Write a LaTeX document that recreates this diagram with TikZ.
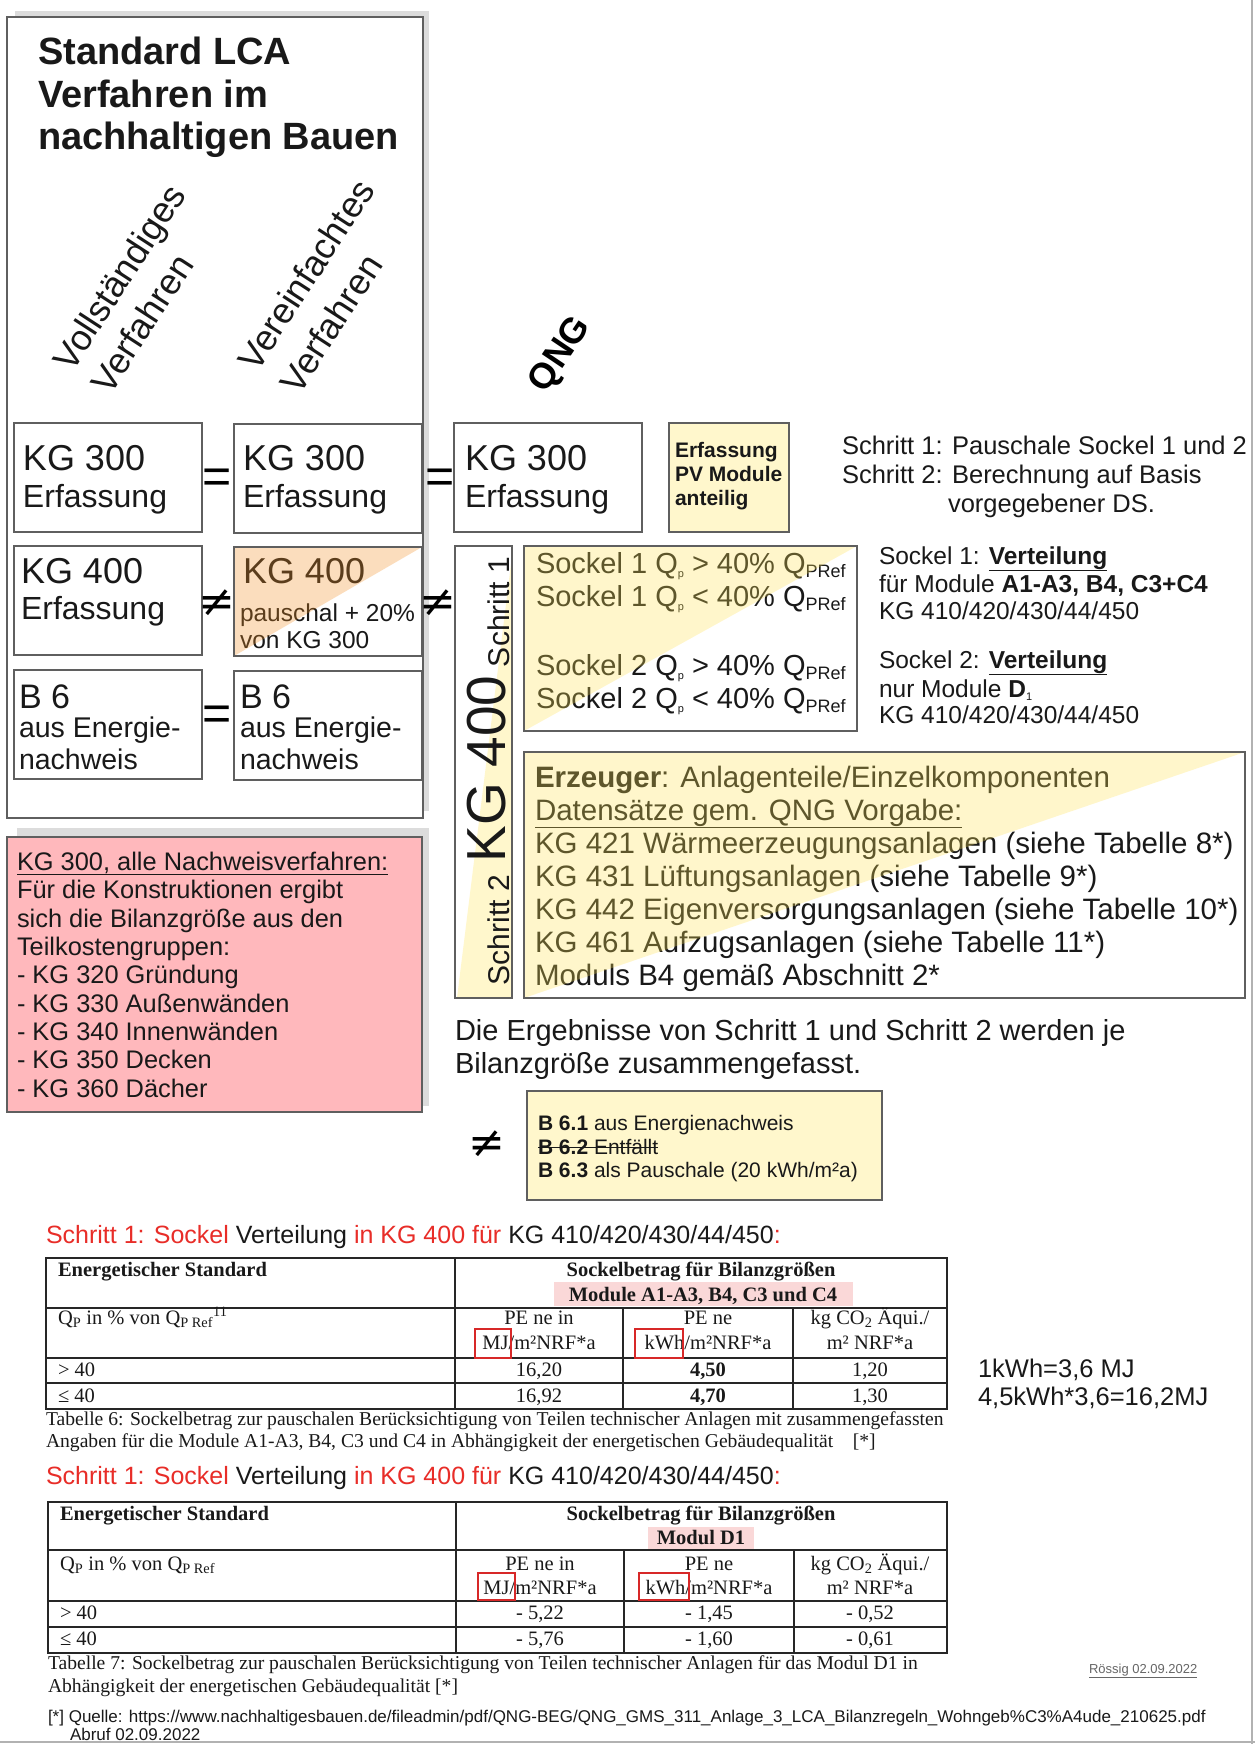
\documentclass[tikz,border=0pt]{standalone}
\usepackage{fontspec}
\setmainfont{Liberation Sans}
\newfontfamily\tser{Liberation Serif}
\newfontfamily\dvs{DejaVu Sans}
\newcommand\fz[1]{\fontsize{#1}{#1}\selectfont}
\newcommand\strk[1]{\leavevmode\setbox0\hbox{#1}\rlap{\rule[0.3em]{\wd0}{1.2pt}}\box0}
\definecolor{ink}{RGB}{25,25,25}
\definecolor{boxc}{RGB}{95,95,95}
\definecolor{shad}{RGB}{220,220,220}
\definecolor{ylw}{RGB}{255,247,204}
\definecolor{ylwo}{RGB}{255,228,85}
\definecolor{orno}{RGB}{245,145,38}
\definecolor{pinkbox}{RGB}{255,184,188}
\definecolor{redt}{RGB}{232,45,40}
\definecolor{hl}{RGB}{250,216,216}
\definecolor{redbox}{RGB}{215,40,40}
\tikzset{
  t/.style={inner sep=0pt, outer sep=0pt, anchor=base west, text=ink},
  tc/.style={inner sep=0pt, outer sep=0pt, anchor=base, text=ink},
  bx/.style={draw=boxc, line width=1.5pt},
  tabl/.style={draw=black!85, line width=1.3pt},
  sym/.style={inner sep=0pt, outer sep=0pt, anchor=center, text=black},
}
\begin{document}
\begin{tikzpicture}[x=1pt,y=-1pt]
\useasboundingbox (0,0) rectangle (1255,1744);
\fill[white] (0,0) rectangle (1255,1744);
\draw[black!30, line width=1.5pt] (1252,0) -- (1252,1744);
\draw[black!30, line width=1.5pt] (0,1742) -- (1255,1742);

% shadows
\fill[shad] (15,11) rectangle (429,811);
\fill[shad] (17,828) rectangle (429,1106);
% main box
\filldraw[fill=white, draw=boxc, line width=1.8pt] (7,17) rectangle (423,818);
% title
\node[t, font=\bfseries\fz{38}] (ti1) at (38,65) {Standard LCA};
\node[t, font=\bfseries\fz{38}] (ti2) at (38,108) {Verfahren im};
\node[t, font=\bfseries\fz{38}] (ti3) at (38,150) {nachhaltigen Bauen};
% rotated headings
\node[t, rotate=57, font=\fz{36}] (vo1) at (72,373) {Vollständiges};
\node[t, rotate=57, font=\fz{36}] (vo2) at (110,396) {Verfahren};
\node[t, rotate=57, font=\fz{36}] (ve1) at (257,373) {Vereinfachtes};
\node[t, rotate=57, font=\fz{36}] (ve2) at (299,396) {Verfahren};
\node[inner sep=0pt, rotate=56, font=\bfseries\fz{36}, text=black] (qng) at (561,355) {QNG};

% row 1
\draw[bx, fill=white] (14,423) rectangle (202,532);
\node[t, font=\fz{36}] (a1a) at (23,470) {KG 300};
\node[t, font=\fz{32}] (a1b) at (23,507) {Erfassung};
\draw[bx, fill=white] (234,424) rectangle (422,533);
\node[t, font=\fz{36}] (b1a) at (243,470) {KG 300};
\node[t, font=\fz{32}] (b1b) at (243,507) {Erfassung};
\draw[bx, fill=white] (454,423) rectangle (642,532);
\node[t, font=\fz{36}] (q1a) at (465,470) {KG 300};
\node[t, font=\fz{32}] (q1b) at (465,507) {Erfassung};
\draw[bx, fill=ylw] (669,423) rectangle (789,532);
\node[t, font=\bfseries\fz{21}] (pv1) at (675,457) {Erfassung};
\node[t, font=\bfseries\fz{21}] (pv2) at (675,481) {PV Module};
\node[t, font=\bfseries\fz{21}] (pv3) at (675,505) {anteilig};
\node[sym, font=\fz{50}] (eq1) at (217,481) {=};
\node[sym, font=\fz{50}] (eq2) at (440,481) {=};

% right top text
\node[t, font=\fz{25.5}] (r1) at (842,454) {Schritt 1: Pauschale Sockel 1 und 2};
\node[t, font=\fz{25.5}] (r2) at (842,483) {Schritt 2: Berechnung auf Basis};
\node[t, font=\fz{25.5}] (r3) at (948,512) {vorgegebener DS.};

% row 2
\draw[bx, fill=white] (14,546) rectangle (202,655);
\node[t, font=\fz{36}] (a2a) at (21,583) {KG 400};
\node[t, font=\fz{32}] (a2b) at (21,619) {Erfassung};
\fill[white] (234,547) rectangle (422,656);
\node[t, font=\fz{36}] (b2a) at (243,583) {KG 400};
\node[t, font=\fz{24.5}] (b2b) at (240,621) {pauschal + 20\%};
\node[t, font=\fz{24.5}] (b2c) at (240,648) {von KG 300};
\fill[orno, fill opacity=0.3] (234,547) -- (422,547) -- (234,656) -- cycle;
\draw[bx] (234,547) rectangle (422,656);
\node[sym, font=\dvs\fz{44}] (ne1) at (217,603) {≠};
\node[sym, font=\dvs\fz{44}] (ne2) at (438,603) {≠};

% row 3
\draw[bx, fill=white] (14,670) rectangle (202,779);
\node[t, font=\fz{34}] (a3a) at (19,708) {B 6};
\node[t, font=\fz{28.5}] (a3b) at (19,737) {aus Energie-};
\node[t, font=\fz{28.5}] (a3c) at (19,769) {nachweis};
\draw[bx, fill=white] (234,671) rectangle (422,780);
\node[t, font=\fz{34}] (b3a) at (240,708) {B 6};
\node[t, font=\fz{28.5}] (b3b) at (240,737) {aus Energie-};
\node[t, font=\fz{28.5}] (b3c) at (240,769) {nachweis};
\node[sym, font=\fz{50}] (eq3) at (217,718) {=};

% KG 400 column
\fill[white] (455,546) rectangle (512,998);
\fill[ylw] (512,556) -- (512,998) -- (457,998) -- cycle;
\node[t, rotate=90, font=\fz{30}] (col1) at (509,667) {Schritt 1};
\node[t, rotate=90, font=\fz{55}] (col2) at (505,862) {KG 400};
\node[t, rotate=90, font=\fz{30}] (col3) at (509,985) {Schritt 2};
\draw[bx] (455,546) rectangle (512,998);

% Sockel box
\fill[white] (524,546) rectangle (857,731);
\node[t, font=\fz{29}] (so1) at (536,573) {Sockel 1 Q\raisebox{-4pt}{\fz{11}p} > 40\% Q\raisebox{-4pt}{\fz{18}PRef}};
\node[t, font=\fz{29}] (so2) at (536,606) {Sockel 1 Q\raisebox{-4pt}{\fz{11}p} < 40\% Q\raisebox{-4pt}{\fz{18}PRef}};
\node[t, font=\fz{29}] (so3) at (536,675) {Sockel 2 Q\raisebox{-4pt}{\fz{11}p} > 40\% Q\raisebox{-4pt}{\fz{18}PRef}};
\node[t, font=\fz{29}] (so4) at (536,708) {Sockel 2 Q\raisebox{-4pt}{\fz{11}p} < 40\% Q\raisebox{-4pt}{\fz{18}PRef}};
\fill[ylwo, fill opacity=0.3] (524,546) -- (857,546) -- (524,731) -- cycle;
\draw[bx] (524,546) rectangle (857,731);

% Sockel explanation
\node[t, font=\fz{24.5}] (se1) at (879,564) {Sockel 1: \textbf{\underline{Verteilung}}};
\node[t, font=\fz{24.5}] (se2) at (879,592) {für Module \textbf{A1-A3, B4, C3+C4}};
\node[t, font=\fz{24.5}] (se3) at (879,619) {KG 410/420/430/44/450};
\node[t, font=\fz{24.5}] (se4) at (879,668) {Sockel 2: \textbf{\underline{Verteilung}}};
\node[t, font=\fz{24.5}] (se5) at (879,697) {nur Module \textbf{D}\raisebox{-3pt}{\fz{11}1}};
\node[t, font=\fz{24.5}] (se6) at (879,723) {KG 410/420/430/44/450};

% Erzeuger box
\fill[white] (524,752) rectangle (1245,998);
\node[t, font=\fz{29.5}] (er1) at (535,787) {\textbf{Erzeuger}: Anlagenteile/Einzelkomponenten};
\node[t, font=\fz{29.5}] (er2) at (535,820) {\underline{Datensätze gem. QNG Vorgabe:}};
\node[t, font=\fz{29.5}] (er3) at (535,853) {KG 421 Wärmeerzeugungsanlagen (siehe Tabelle 8*)};
\node[t, font=\fz{29.5}] (er4) at (535,886) {KG 431 Lüftungsanlagen (siehe Tabelle 9*)};
\node[t, font=\fz{29.5}] (er5) at (535,919) {KG 442 Eigenversorgungsanlagen (siehe Tabelle 10*)};
\node[t, font=\fz{29.5}] (er6) at (535,952) {KG 461 Aufzugsanlagen (siehe Tabelle 11*)};
\node[t, font=\fz{29.5}] (er7) at (535,985) {Moduls B4 gemäß Abschnitt 2*};
\fill[ylwo, fill opacity=0.3] (524,752) -- (1245,752) -- (524,998) -- cycle;
\draw[bx] (524,752) rectangle (1245,998);

% Pink box
\filldraw[fill=pinkbox, draw=boxc, line width=1.5pt] (7,837) rectangle (422,1112);
\node[t, font=\fz{25.4}] (pk1) at (17,870) {\underline{KG 300, alle Nachweisverfahren:}};
\node[t, font=\fz{25.4}] (pk2) at (17,898) {Für die Konstruktionen ergibt};
\node[t, font=\fz{25.4}] (pk3) at (17,927) {sich die Bilanzgröße aus den};
\node[t, font=\fz{25.4}] (pk4) at (17,955) {Teilkostengruppen:};
\node[t, font=\fz{25.4}] (pk5) at (17,983) {- KG 320 Gründung};
\node[t, font=\fz{25.4}] (pk6) at (17,1012) {- KG 330 Außenwänden};
\node[t, font=\fz{25.4}] (pk7) at (17,1040) {- KG 340 Innenwänden};
\node[t, font=\fz{25.4}] (pk8) at (17,1068) {- KG 350 Decken};
\node[t, font=\fz{25.4}] (pk9) at (17,1097) {- KG 360 Dächer};

% Ergebnisse
\node[t, font=\fz{29}] (eg1) at (455,1040) {Die Ergebnisse von Schritt 1 und Schritt 2 werden je};
\node[t, font=\fz{29}] (eg2) at (455,1073) {Bilanzgröße zusammengefasst.};

% B6 box
\draw[bx, fill=ylw] (527,1091) rectangle (882,1200);
\node[t, font=\fz{21}] (b61) at (538,1130) {\textbf{B 6.1} aus Energienachweis};
\node[t, font=\fz{21}] (b62) at (538,1154) {\strk{\textbf{B 6.2} Entfällt}};
\node[t, font=\fz{21}] (b63) at (538,1177) {\textbf{B 6.3} als Pauschale (20 kWh/m²a)};
\node[sym, font=\dvs\fz{44}] (ne3) at (487,1144) {≠};

% ---------- Table 1 ----------
\node[t, font=\fz{25}] (h1) at (46,1243) {\textcolor{redt}{Schritt 1: Sockel} Verteilung \textcolor{redt}{in KG 400 für} KG 410/420/430/44/450\textcolor{redt}{:}};
\fill[hl] (554,1282) rectangle (853,1306);
\draw[tabl] (46,1258) rectangle (947,1409);
\draw[tabl] (46,1308) -- (947,1308);
\draw[tabl] (46,1358) -- (947,1358);
\draw[tabl] (46,1383) -- (947,1383);
\draw[tabl] (455,1258) -- (455,1409);
\draw[tabl] (623,1308) -- (623,1409);
\draw[tabl] (793,1308) -- (793,1409);
\node[t, font=\tser\bfseries\fz{20.5}] (t1a) at (58,1276) {Energetischer Standard};
\node[tc, font=\tser\bfseries\fz{20.5}] (t1b) at (701,1276) {Sockelbetrag für Bilanzgrößen};
\node[tc, font=\tser\bfseries\fz{20.5}] (t1c) at (703,1301) {Module A1-A3, B4, C3 und C4};
\node[t, font=\tser\fz{20.5}] (t1d) at (58,1324) {Q\textsubscript{P} in \% von Q\textsubscript{P Ref}\textsuperscript{11}};
\node[tc, font=\tser\fz{20.5}] (t1e) at (539,1324) {PE ne in};
\node[tc, font=\tser\fz{20.5}] (t1f) at (539,1349) {MJ/m²NRF*a};
\node[tc, font=\tser\fz{20.5}] (t1g) at (708,1324) {PE ne};
\node[tc, font=\tser\fz{20.5}] (t1h) at (708,1349) {kWh/m²NRF*a};
\node[tc, font=\tser\fz{20.5}] (t1i) at (870,1324) {kg CO\textsubscript{2} Äqui./};
\node[tc, font=\tser\fz{20.5}] (t1j) at (870,1349) {m² NRF*a};
\node[t, font=\tser\fz{20.5}] (t1k) at (58,1376) {> 40};
\node[tc, font=\tser\fz{20.5}] (t1l) at (539,1376) {16,20};
\node[tc, font=\tser\bfseries\fz{20.5}] (t1m) at (708,1376) {4,50};
\node[tc, font=\tser\fz{20.5}] (t1n) at (870,1376) {1,20};
\node[t, font=\tser\fz{20.5}] (t1o) at (58,1402) {≤ 40};
\node[tc, font=\tser\fz{20.5}] (t1p) at (539,1402) {16,92};
\node[tc, font=\tser\bfseries\fz{20.5}] (t1q) at (708,1402) {4,70};
\node[tc, font=\tser\fz{20.5}] (t1r) at (870,1402) {1,30};
\draw[redbox, line width=1.3pt] (475,1329) rectangle (511,1358);
\draw[redbox, line width=1.3pt] (635,1329) rectangle (683,1358);
\node[t, font=\tser\fz{19.6}] (c1a) at (46,1425) {Tabelle 6: Sockelbetrag zur pauschalen Berücksichtigung von Teilen technischer Anlagen mit zusammengefassten};
\node[t, font=\tser\fz{19.6}] (c1b) at (46,1447) {Angaben für die Module A1-A3, B4, C3 und C4 in Abhängigkeit der energetischen Gebäudequalität\quad[*]};
\node[t, font=\fz{25.5}] (k1) at (978,1377) {1kWh=3,6 MJ};
\node[t, font=\fz{25.5}] (k2) at (978,1405) {4,5kWh*3,6=16,2MJ};

% ---------- Table 2 ----------
\node[t, font=\fz{25}] (h2) at (46,1484) {\textcolor{redt}{Schritt 1: Sockel} Verteilung \textcolor{redt}{in KG 400 für} KG 410/420/430/44/450\textcolor{redt}{:}};
\fill[hl] (648,1527) rectangle (754,1549);
\draw[tabl] (48,1502) rectangle (947,1653);
\draw[tabl] (48,1550) -- (947,1550);
\draw[tabl] (48,1601) -- (947,1601);
\draw[tabl] (48,1627) -- (947,1627);
\draw[tabl] (456,1502) -- (456,1653);
\draw[tabl] (624,1550) -- (624,1653);
\draw[tabl] (794,1550) -- (794,1653);
\node[t, font=\tser\bfseries\fz{20.5}] (t2a) at (60,1520) {Energetischer Standard};
\node[tc, font=\tser\bfseries\fz{20.5}] (t2b) at (701,1520) {Sockelbetrag für Bilanzgrößen};
\node[tc, font=\tser\bfseries\fz{20.5}] (t2c) at (701,1544) {Modul D1};
\node[t, font=\tser\fz{20.5}] (t2d) at (60,1570) {Q\textsubscript{P} in \% von Q\textsubscript{P Ref}};
\node[tc, font=\tser\fz{20.5}] (t2e) at (540,1570) {PE ne in};
\node[tc, font=\tser\fz{20.5}] (t2f) at (540,1594) {MJ/m²NRF*a};
\node[tc, font=\tser\fz{20.5}] (t2g) at (709,1570) {PE ne};
\node[tc, font=\tser\fz{20.5}] (t2h) at (709,1594) {kWh/m²NRF*a};
\node[tc, font=\tser\fz{20.5}] (t2i) at (870,1570) {kg CO\textsubscript{2} Äqui./};
\node[tc, font=\tser\fz{20.5}] (t2j) at (870,1594) {m² NRF*a};
\node[t, font=\tser\fz{20.5}] (t2k) at (60,1619) {> 40};
\node[tc, font=\tser\fz{20.5}] (t2l) at (540,1619) {- 5,22};
\node[tc, font=\tser\fz{20.5}] (t2m) at (709,1619) {- 1,45};
\node[tc, font=\tser\fz{20.5}] (t2n) at (870,1619) {- 0,52};
\node[t, font=\tser\fz{20.5}] (t2o) at (60,1645) {≤ 40};
\node[tc, font=\tser\fz{20.5}] (t2p) at (540,1645) {- 5,76};
\node[tc, font=\tser\fz{20.5}] (t2q) at (709,1645) {- 1,60};
\node[tc, font=\tser\fz{20.5}] (t2r) at (870,1645) {- 0,61};
\draw[redbox, line width=1.3pt] (478,1573) rectangle (515,1600);
\draw[redbox, line width=1.3pt] (639,1573) rectangle (689,1600);
\node[t, font=\tser\fz{19.6}] (c2a) at (48,1669) {Tabelle 7: Sockelbetrag zur pauschalen Berücksichtigung von Teilen technischer Anlagen für das Modul D1 in};
\node[t, font=\tser\fz{19.6}] (c2b) at (48,1692) {Abhängigkeit der energetischen Gebäudequalität [*]};
\node[t, font=\fz{13}, text=black!60] (sig) at (1089,1673) {\underline{Rössig 02.09.2022}};
\node[t, font=\fz{17}] (src1) at (48,1722) {[*] Quelle: https://www.nachhaltigesbauen.de/fileadmin/pdf/QNG-BEG/QNG\_GMS\_311\_Anlage\_3\_LCA\_Bilanzregeln\_Wohngeb\%C3\%A4ude\_210625.pdf};
\node[t, font=\fz{17}] (src2) at (70,1740) {Abruf 02.09.2022};
\end{tikzpicture}
\end{document}
